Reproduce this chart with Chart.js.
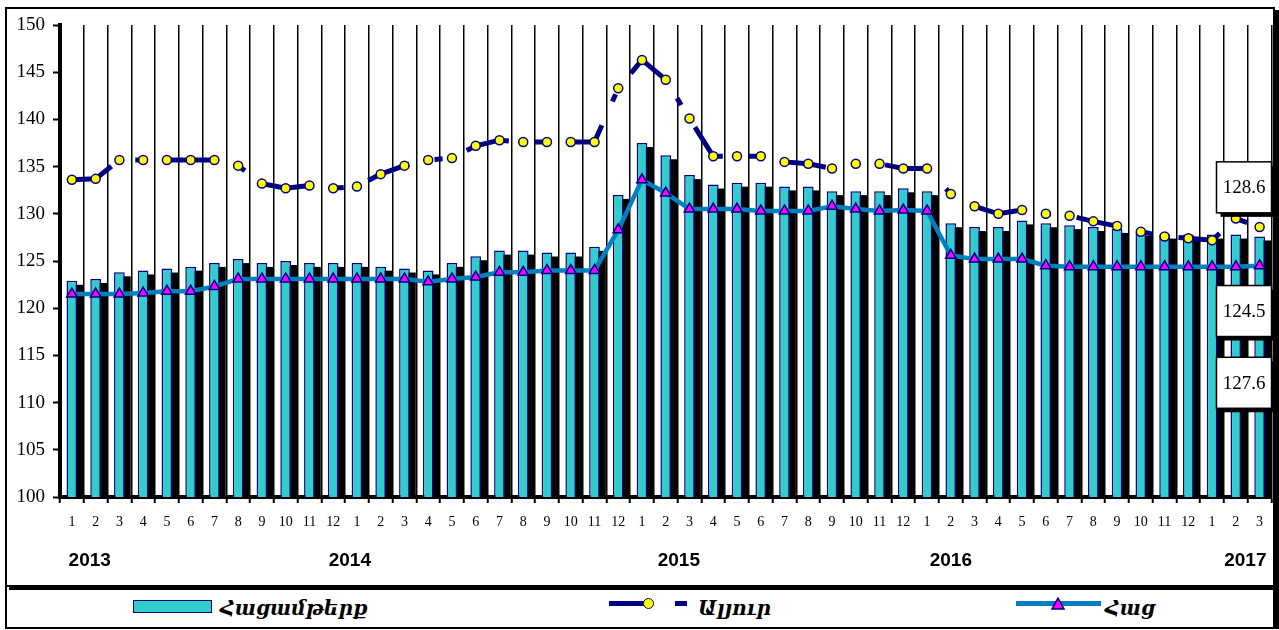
<!DOCTYPE html>
<html>
<head>
<meta charset="utf-8">
<script src="https://cdn.jsdelivr.net/npm/chart.js@4.4.1/dist/chart.umd.min.js"></script>
<style>
  html, body { margin: 0; padding: 0; background: #fff; }
  #wrap { position: relative; width: 1279px; height: 630px; overflow: hidden; }
  #frame { position: absolute; left: 5px; top: 7px; width: 1266px; height: 576px; border: 2px solid #000; box-shadow: 4px 3px 0 #000; }
  #legbox { position: absolute; left: 5px; top: 585px; width: 1266px; height: 40px; border: 2px solid #000; box-shadow: 4px 0 0 #000; }
  canvas { position: absolute; left: 0; top: 0; }
  .lg { position: absolute; box-sizing: border-box; }
  .txt { position: absolute; font: italic bold 20px 'DejaVu Serif', serif; line-height: 28px; color: #000; white-space: nowrap; }
</style>
</head>
<body>
<div id="wrap">
  <div id="frame"></div>
  <div id="legbox"></div>
  <canvas id="c" width="1279" height="586"></canvas>

  <!-- legend -->
  <div class="lg" style="left:133px;top:600px;width:79px;height:13px;background:#33cccc;border:1.5px solid #000080"></div>
  <div class="txt" style="left:220px;top:594px">Հացամթերք</div>

  <div class="lg" style="left:609px;top:601px;width:38px;height:5px;background:#000080"></div>
  <div class="lg" style="left:643px;top:598px;width:11px;height:11px;border-radius:50%;background:#ffff00;border:1.5px solid #000080"></div>
  <div class="lg" style="left:675px;top:601px;width:12px;height:5px;background:#000080"></div>
  <div class="txt" style="left:698px;top:594px">Ալյուր</div>

  <div class="lg" style="left:1016px;top:601px;width:85px;height:5px;background:#0080c0"></div>
  <svg class="lg" style="left:1051px;top:597px" width="14" height="13"><polygon points="7,1 13,12 1,12" fill="#ff00ff" stroke="#000080" stroke-width="1.5"/></svg>
  <div class="txt" style="left:1105px;top:594px">Հաց</div>
</div>

<script>
'use strict';

// ---------- データ ----------
const monthLabels = [
  '1','2','3','4','5','6','7','8','9','10','11','12',
  '1','2','3','4','5','6','7','8','9','10','11','12',
  '1','2','3','4','5','6','7','8','9','10','11','12',
  '1','2','3','4','5','6','7','8','9','10','11','12',
  '1','2','3'
];
const years = ['2013', '2014', '2015', '2016', '2017'];
const yearPos = [0.75, 11.7, 25.55, 37.0, 49.4];   // 年ラベルの位置(カテゴリ番号)

// Հացամթերք (棒)
const hacamterq = [
  122.9, 123.1, 123.8, 124.0, 124.2, 124.4, 124.8, 125.2, 124.8, 125.0, 124.8, 124.8,
  124.8, 124.4, 124.2, 124.0, 124.8, 125.5, 126.1, 126.1, 125.9, 125.9, 126.5, 132.0,
  137.5, 136.2, 134.1, 133.1, 133.3, 133.3, 132.9, 132.9, 132.4, 132.4, 132.4, 132.7,
  132.4, 129.0, 128.6, 128.6, 129.3, 129.0, 128.8, 128.6, 128.4, 128.1, 127.8, 127.8,
  127.8, 127.8, 127.6
];
// Ալյուր (破線+丸)
const alyur = [
  133.6, 133.7, 135.7, 135.7, 135.7, 135.7, 135.7, 135.1, 133.2, 132.7, 133.0, 132.7,
  132.9, 134.2, 135.1, 135.7, 135.9, 137.2, 137.8, 137.6, 137.6, 137.6, 137.6, 143.3,
  146.3, 144.2, 140.1, 136.1, 136.1, 136.1, 135.5, 135.3, 134.8, 135.3, 135.3, 134.8,
  134.8, 132.1, 130.8, 130.0, 130.4, 130.0, 129.8, 129.2, 128.7, 128.1, 127.6, 127.4,
  127.2, 129.5, 128.6
];
// Հաց (線+三角)
const hac = [
  121.5, 121.5, 121.5, 121.6, 121.8, 121.8, 122.3, 123.1, 123.1, 123.1, 123.1, 123.1,
  123.1, 123.1, 123.1, 122.8, 123.1, 123.3, 123.8, 123.8, 124.0, 124.0, 124.0, 128.3,
  133.6, 132.2, 130.5, 130.5, 130.5, 130.3, 130.3, 130.3, 130.8, 130.5, 130.3, 130.4,
  130.3, 125.6, 125.2, 125.2, 125.2, 124.5, 124.4, 124.4, 124.4, 124.4, 124.4, 124.4,
  124.4, 124.4, 124.5
];
// 右端の値ボックス(文字, 縦位置=値)
const endLabels = ['128.6', '124.5', '127.6'];
const endLabelY = [132.8, 119.7, 112.1];

// ---------- プラグイン ----------
// 棒の影(右下にずらした黒い矩形)
const barShadow = {
  id: 'barShadow',
  beforeDatasetDraw(chart, args) {
    if (chart.data.datasets[args.index].type !== 'bar') return;
    const c = chart.ctx, a = chart.chartArea;
    c.save();
    c.beginPath(); c.rect(a.left, a.top, a.right - a.left, a.bottom - a.top); c.clip();
    c.fillStyle = '#000';
    args.meta.data.forEach((bar) => {
      const p = bar.getProps(['x', 'y', 'base', 'width'], true);
      c.fillRect(p.x - p.width / 2 + 6, p.y + 4, p.width, p.base - p.y);
    });
    c.restore();
  }
};

const extras = {
  id: 'extras',
  afterDraw(chart) {
    const c = chart.ctx, x = chart.scales.x, y = chart.scales.y;
    c.save();
    // 年ラベル
    c.fillStyle = '#000';
    c.font = 'bold 19px "Liberation Sans", Arial, sans-serif';
    c.textAlign = 'center';
    c.textBaseline = 'middle';
    years.forEach((t, i) => c.fillText(t, x.getPixelForValue(yearPos[i]), 561));
    // 右端の値ボックス
    const w = 55, h = 51, right = chart.chartArea.right;
    c.font = '19px "Liberation Serif", serif';
    endLabels.forEach((t, i) => {
      const cy = y.getPixelForValue(endLabelY[i]);
      const bx = right - w, by = cy - h / 2;
      c.fillStyle = '#000';
      c.fillRect(bx + 4, by + 4, w, h);
      c.fillStyle = '#fff';
      c.fillRect(bx, by, w, h);
      c.strokeStyle = '#000';
      c.lineWidth = 1.5;
      c.strokeRect(bx, by, w, h);
      c.fillStyle = '#000';
      c.fillText(t, bx + w / 2, cy + 1);
    });
    c.restore();
  }
};

// ---------- チャート ----------
new Chart(document.getElementById('c'), {
  type: 'bar',
  data: {
    labels: monthLabels,
    datasets: [
      { type: 'line', label: 'Ալյուր', data: alyur, order: 1,
        borderColor: '#000080', borderWidth: 5, borderDash: [44, 26, 8, 26], tension: 0,
        pointStyle: 'circle', pointRadius: 4.5, pointBackgroundColor: '#ffff00',
        pointBorderColor: '#000080', pointBorderWidth: 1.5 },
      { type: 'line', label: 'Հաց', data: hac, order: 2,
        borderColor: '#0080c0', borderWidth: 4.5, tension: 0,
        pointStyle: 'triangle', pointRadius: 6, pointBackgroundColor: '#ff00ff',
        pointBorderColor: '#000080', pointBorderWidth: 1.5 },
      { type: 'bar', label: 'Հացամթերք', data: hacamterq, order: 3,
        backgroundColor: '#33cccc', borderColor: '#000080', borderWidth: 1.5,
        barPercentage: 0.45, categoryPercentage: 1 }
    ]
  },
  options: {
    responsive: false,
    animation: false,
    layout: { padding: { left: 0, right: 6, top: 25, bottom: 0 } },
    plugins: { legend: { display: false }, tooltip: { enabled: false } },
    scales: {
      x: {
        afterFit(s) { s.height = 89; },
        grid: { display: true, drawOnChartArea: true, offset: true, color: '#000', lineWidth: 1.5,
          tickLength: 6, tickColor: '#000', tickWidth: 2 },
        border: { display: true, color: '#000', width: 4 },
        ticks: { autoSkip: false, maxRotation: 0, padding: 11, color: '#000',
          font: { family: '"Liberation Serif", serif', size: 14 } }
      },
      y: {
        min: 100, max: 150,
        afterFit(s) { s.width = 60; },
        grid: { drawOnChartArea: false, tickLength: 7, tickColor: '#000', tickWidth: 2 },
        border: { display: true, color: '#000', width: 4 },
        ticks: { stepSize: 5, padding: 8, color: '#000',
          font: { family: '"Liberation Serif", serif', size: 19 } }
      }
    }
  },
  plugins: [barShadow, extras]
});
</script>
</body>
</html>
